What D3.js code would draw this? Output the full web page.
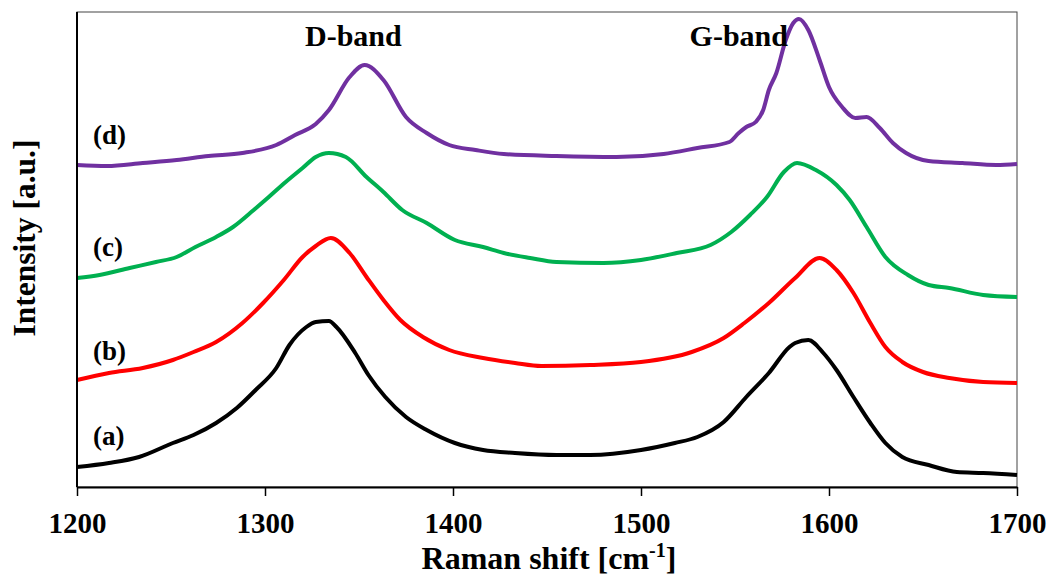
<!DOCTYPE html>
<html>
<head>
<meta charset="utf-8">
<script src="https://cdn.jsdelivr.net/npm/d3@7"></script>
<style>
  body { margin: 0; background: #fff; }
  text { font-family: "Liberation Serif", "Times New Roman", serif; font-weight: bold; fill: #000; }
</style>
</head>
<body>
<svg id="chart"></svg>
<script>
// Raman spectra, intensity in arbitrary units (offset per sample)
const xTicks = [1200, 1300, 1400, 1500, 1600, 1700];

const shiftA = [1200, 1217, 1233, 1251, 1262, 1274, 1285, 1295, 1306, 1313, 1322, 1327, 1334, 1338, 1348, 1355, 1364, 1375, 1386, 1401, 1416, 1433, 1455, 1473, 1500, 1518, 1530, 1544, 1556, 1568, 1579, 1582, 1589, 1597, 1604, 1613, 1622, 1630, 1639, 1653, 1668, 1682, 1700];
const intA   = [20, 24, 30, 44, 52, 64, 79, 97, 119, 142, 160, 165, 166, 160, 134, 112, 90, 70, 57, 44, 37, 34, 32, 32, 37, 44, 50, 65, 90, 114, 140, 144, 147, 134, 117, 90, 64, 44, 30, 22, 15, 14, 12];

const shiftB = [1200, 1217, 1235, 1251, 1262, 1274, 1288, 1299, 1310, 1320, 1327, 1335, 1345, 1354, 1363, 1372, 1384, 1398, 1416, 1433, 1447, 1473, 1500, 1527, 1544, 1555, 1568, 1582, 1595, 1604, 1613, 1622, 1630, 1639, 1650, 1664, 1682, 1700];
const intB   = [107, 114, 119, 127, 135, 145, 164, 184, 207, 230, 241, 249, 234, 210, 187, 167, 150, 137, 129, 124, 121, 122, 125, 135, 149, 164, 184, 209, 229, 217, 194, 164, 140, 125, 115, 109, 105, 104];

const shiftC = [1200, 1212, 1228, 1242, 1253, 1263, 1274, 1283, 1294, 1302, 1311, 1320, 1327, 1334, 1343, 1354, 1363, 1373, 1386, 1401, 1416, 1427, 1441, 1455, 1480, 1500, 1519, 1537, 1548, 1558, 1567, 1576, 1583, 1593, 1604, 1611, 1620, 1630, 1642, 1653, 1664, 1682, 1700];
const intC   = [209, 212, 219, 225, 230, 240, 250, 260, 277, 290, 305, 319, 330, 334, 330, 310, 295, 277, 264, 247, 240, 234, 229, 225, 224, 227, 234, 242, 255, 272, 290, 315, 324, 317, 302, 287, 260, 230, 212, 202, 199, 192, 190];

const shiftD = [1200, 1216, 1235, 1253, 1270, 1288, 1306, 1316, 1327, 1334, 1345, 1353, 1363, 1375, 1386, 1398, 1412, 1427, 1455, 1487, 1512, 1530, 1547, 1552, 1556, 1561, 1565, 1568, 1572, 1577, 1581, 1584, 1589, 1595, 1600, 1607, 1614, 1620, 1627, 1634, 1641, 1653, 1671, 1689, 1700];
const intD   = [322, 321, 324, 327, 331, 334, 342, 352, 363, 377, 410, 422, 407, 370, 354, 342, 337, 333, 331, 330, 333, 339, 345, 354, 360, 365, 377, 397, 414, 447, 464, 468, 457, 427, 400, 380, 369, 370, 359, 344, 334, 326, 324, 322, 323];

const seriesNames  = ['(a)', '(b)', '(c)', '(d)'];
const seriesColors = ['#000000', '#ff0000', '#00b050', '#7030a0'];

const width = 1051, height = 576;
const margin = { top: 12, right: 34, bottom: 89, left: 77 };
const innerW = width - margin.left - margin.right;
const innerH = height - margin.top - margin.bottom;

const svg = d3.select('#chart').attr('width', width).attr('height', height);
const chart = svg.append('g').attr('transform', `translate(${margin.left}, ${margin.top})`);

const xscale = d3.scaleLinear().domain([1200, 1700]).range([0, innerW]);
const yscale = d3.scaleLinear().domain([0, 475]).range([innerH, 0]);

// plot frame
chart.append('rect')
    .attr('x', 0).attr('y', 0)
    .attr('width', innerW).attr('height', innerH)
    .attr('fill', 'none')
    .attr('stroke', '#444')
    .attr('stroke-width', 1);

const series = [
    { shift: shiftA, value: intA },
    { shift: shiftB, value: intB },
    { shift: shiftC, value: intC },
    { shift: shiftD, value: intD }
].map((s, i) => ({
    name: seriesNames[i],
    color: seriesColors[i],
    points: s.shift.map((x, j) => ({ x: x, y: s.value[j] }))
}));

const line = d3.line()
    .x(d => xscale(d.x))
    .y(d => yscale(d.y))
    .curve(d3.curveMonotoneX);

chart.selectAll('.spec')
    .data(series)
    .join('path')
    .attr('class', 'spec')
    .attr('d', d => line(d.points))
    .attr('fill', 'none')
    .attr('stroke', d => d.color)
    .attr('stroke-width', 4)
    .attr('stroke-linejoin', 'round');

// axes
const xaxis = d3.axisBottom(xscale)
    .tickValues(xTicks)
    .tickFormat(d3.format('d'))
    .tickSize(9)
    .tickSizeOuter(0)
    .tickPadding(16);

const xg = chart.append('g')
    .attr('transform', `translate(0, ${innerH})`)
    .call(xaxis);
xg.select('.domain').attr('stroke', '#000').attr('stroke-width', 2);
xg.selectAll('.tick line').attr('stroke', '#000').attr('stroke-width', 1.5);
xg.selectAll('.tick text')
    .attr('font-size', 29)
    .attr('font-family', '"Liberation Serif", serif')
    .attr('font-weight', 'bold')
    .attr('fill', '#000');

chart.append('line')
    .attr('x1', 0).attr('x2', 0)
    .attr('y1', 0).attr('y2', innerH)
    .attr('stroke', '#000')
    .attr('stroke-width', 2);

// sample labels
const labelY = [445, 360, 256, 144];
chart.selectAll('.lab')
    .data(series)
    .join('text')
    .attr('class', 'lab')
    .attr('x', 16)
    .attr('y', (d, i) => labelY[i] - margin.top)
    .attr('font-size', 27)
    .text(d => d.name);

// band labels
chart.append('text')
    .attr('x', xscale(1347))
    .attr('y', 46 - margin.top)
    .attr('text-anchor', 'middle')
    .attr('font-size', 30)
    .text('D-band');

chart.append('text')
    .attr('x', xscale(1552))
    .attr('y', 46 - margin.top)
    .attr('text-anchor', 'middle')
    .attr('font-size', 30)
    .text('G-band');

// axis titles
const xt = svg.append('text')
    .attr('x', margin.left + innerW / 2 + 2)
    .attr('y', 569)
    .attr('text-anchor', 'middle')
    .attr('font-size', 32);
xt.append('tspan').text('Raman shift [cm');
xt.append('tspan').attr('dy', -12).attr('font-size', 20).text('-1');
xt.append('tspan').attr('dy', 12).text(']');

svg.append('text')
    .attr('transform', 'translate(35, 238) rotate(-90)')
    .attr('text-anchor', 'middle')
    .attr('font-size', 31.5)
    .text('Intensity [a.u.]');
</script>
</body>
</html>
